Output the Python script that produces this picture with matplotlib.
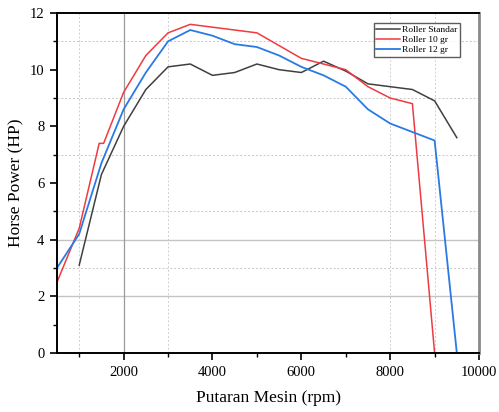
import matplotlib
matplotlib.use('Agg')
from matplotlib import pyplot as plt
from matplotlib.ticker import MultipleLocator

plt.rcParams['font.family'] = ['Liberation Serif', 'DejaVu Serif']

# data
rpm_std = [1000, 1500, 2000, 2500, 3000, 3500, 4000, 4500, 5000, 5500, 6000, 6500, 7000, 7500, 8000, 8500, 9000, 9500]
hp_std = [3.1, 6.3, 8.0, 9.3, 10.1, 10.2, 9.8, 9.9, 10.2, 10.0, 9.9, 10.3, 9.95, 9.5, 9.4, 9.3, 8.9, 7.6]

rpm_10 = [500, 1000, 1450, 1550, 2000, 2500, 3000, 3500, 4000, 4500, 5000, 5500, 6000, 6500, 7000, 7500, 8000, 8500, 9000]
hp_10 = [2.5, 4.4, 7.4, 7.4, 9.2, 10.5, 11.3, 11.6, 11.5, 11.4, 11.3, 10.85, 10.4, 10.2, 10.0, 9.4, 9.0, 8.8, 0.0]

rpm_12 = [500, 1000, 1500, 2000, 2500, 3000, 3500, 4000, 4500, 5000, 5500, 6000, 6500, 7000, 7500, 8000, 8500, 9000, 9500]
hp_12 = [3.0, 4.2, 6.7, 8.6, 9.9, 11.0, 11.4, 11.2, 10.9, 10.8, 10.5, 10.1, 9.8, 9.4, 8.6, 8.1, 7.8, 7.5, 0.0]

fig = plt.figure(figsize=(4.99, 4.12), dpi=100)
ax = fig.add_axes([0.1142, 0.1432, 0.8458, 0.8252])

# odd origin-style grid
for y in [3, 5, 7, 9, 11]:
    ax.axhline(y, color='#c6c6c6', lw=0.7, ls=(0, (2, 2)), zorder=0)
for x in [1000, 3000, 8000, 9000]:
    ax.axvline(x, color='#cfcfcf', lw=0.7, ls=(0, (2, 2)), zorder=0)
for y in [2, 4]:
    ax.axhline(y, color='#c4c4c4', lw=1.0, zorder=0)
ax.axvline(2000, color='#9a9a9a', lw=0.9, zorder=0)

ax.plot(rpm_std, hp_std, color='#404040', lw=1.1, label='Roller Standar')
ax.plot(rpm_10, hp_10, color='#ef3b3f', lw=1.1, label='Roller 10 gr')
ax.plot(rpm_12, hp_12, color='#2a7ae4', lw=1.3, label='Roller 12 gr')

ax.set_xlim(500, 10000)
ax.set_ylim(0, 12)
ax.xaxis.set_major_locator(MultipleLocator(2000))
ax.xaxis.set_minor_locator(MultipleLocator(1000))
ax.yaxis.set_major_locator(MultipleLocator(2))
ax.yaxis.set_minor_locator(MultipleLocator(1))
ax.tick_params(which='major', direction='out', length=5, width=1.2, labelsize=10.5, pad=4)
ax.tick_params(which='minor', direction='out', length=3, width=1.0)

for s in ['left', 'bottom', 'top']:
    ax.spines[s].set_linewidth(1.4)
    ax.spines[s].set_color('black')
ax.spines['right'].set_linewidth(2.0)
ax.spines['right'].set_color('#8a8a8a')

ax.set_xlabel('Putaran Mesin (rpm)', fontsize=12.5, labelpad=8)
ax.set_ylabel('Horse Power (HP)', fontsize=12.5, labelpad=4)

leg = ax.legend(loc='upper right', bbox_to_anchor=(0.955, 0.97), fontsize=6.8,
                frameon=True, fancybox=False, borderpad=0.25, handlelength=2.6,
                handletextpad=0.2, labelspacing=0.15, borderaxespad=0)
leg.get_frame().set_edgecolor('#333333')
leg.get_frame().set_linewidth(1.0)

fig.savefig('out.png', dpi=100)
